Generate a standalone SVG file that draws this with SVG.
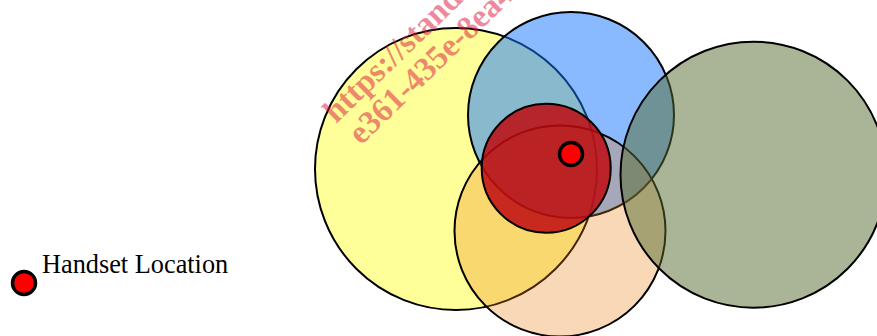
<svg xmlns="http://www.w3.org/2000/svg" width="877" height="336" viewBox="0 0 877 336">
<style>
.area{stroke:#000;stroke-width:2}
.dot{fill:#ff0000;stroke:#000;stroke-width:3.5}
.lbl{font-family:"Liberation Serif","Times New Roman",serif;font-size:26.3px;fill:#000}
.wm{font-family:"Liberation Serif","Times New Roman",serif;font-size:33px;font-weight:bold;fill:rgb(220,20,60);fill-opacity:0.5}
</style>
<rect width="877" height="336" fill="#fff"/>
<g id="area-yellow"><circle class="area" cx="456" cy="169" r="141" fill="#ffff00" fill-opacity="0.4"/></g>
<g id="area-blue"><circle class="area" cx="571" cy="115" r="103" fill="rgb(20,115,255)" fill-opacity="0.5"/></g>
<g id="area-peach"><circle class="area" cx="560" cy="231" r="105.5" fill="rgb(235,125,20)" fill-opacity="0.3"/></g>
<g id="area-red"><circle class="area" cx="546.2" cy="168.3" r="64.5" fill="rgb(190,10,15)" fill-opacity="0.85"/></g>
<g id="area-olive"><circle class="area" cx="753.5" cy="174.7" r="133" fill="#556b2f" fill-opacity="0.5"/></g>
<g id="connectors"></g>
<g id="handset"><circle class="dot" cx="571" cy="154" r="11.5"/></g>
<g id="legend">
<circle class="dot" cx="24" cy="283" r="11.5"/>
<text class="lbl" x="42" y="273">Handset Location</text>
</g>
<g id="watermark" transform="translate(336,124) rotate(-44)">
<text class="wm" x="0" y="0">https://standa</text>
<text class="wm" x="3" y="33">e361-435e-8ea4</text>
</g>
</svg>
